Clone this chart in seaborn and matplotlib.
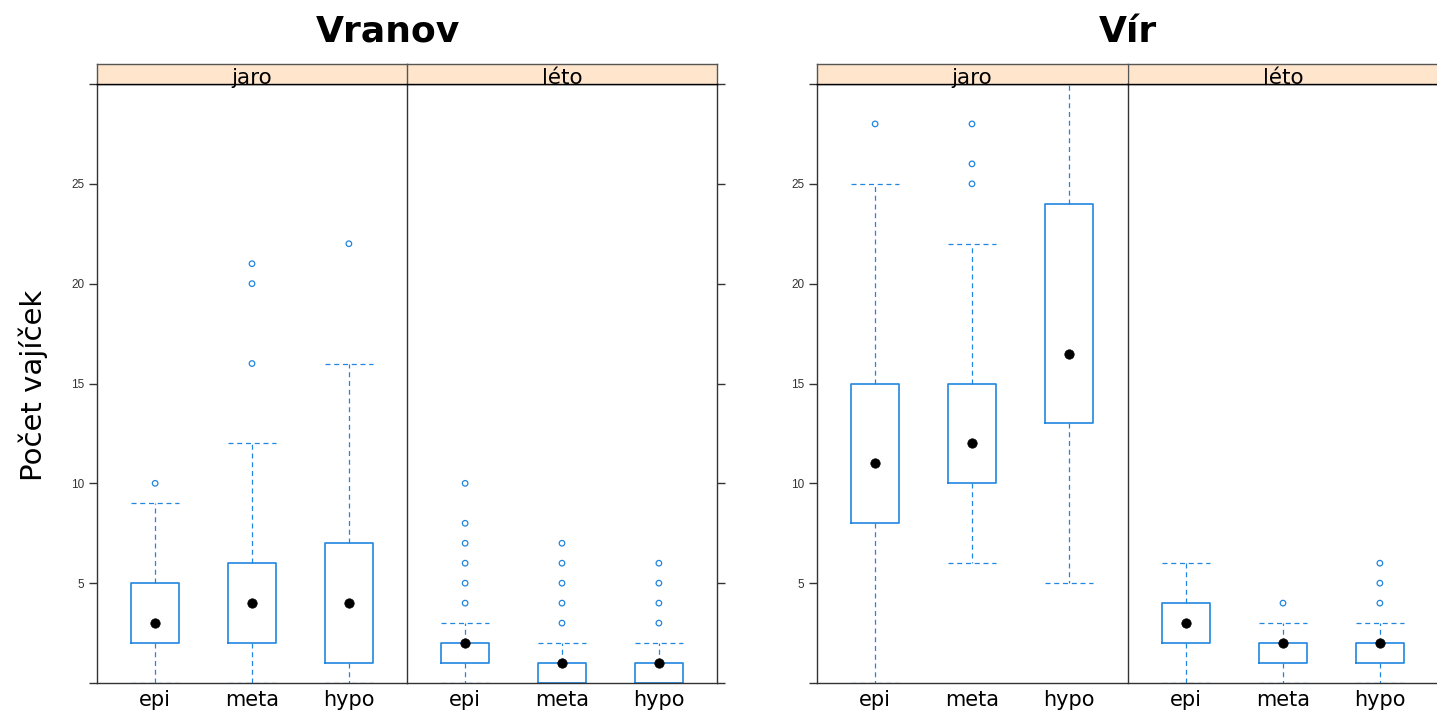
import matplotlib
matplotlib.use("Agg")
import matplotlib.pyplot as plt
import seaborn as sns

# Categories
groups = ["epi", "meta", "hypo"]
seasons = ["jaro", "léto"]
lakes = ["Vranov", "Vír"]

# Box-plot summaries: lower whisker, lower hinge, median, upper hinge, upper whisker, outliers
vranov_jaro_lo = [0, 0, 0]
vranov_jaro_q1 = [2, 2, 1]
vranov_jaro_med = [3, 4, 4]
vranov_jaro_q3 = [5, 6, 7]
vranov_jaro_hi = [9, 12, 16]
vranov_jaro_out = [[10], [16, 20, 21], [22]]

vranov_leto_lo = [0, 0, 0]
vranov_leto_q1 = [1, 0, 0]
vranov_leto_med = [2, 1, 1]
vranov_leto_q3 = [2, 1, 1]
vranov_leto_hi = [3, 2, 2]
vranov_leto_out = [[4, 5, 6, 7, 8, 10], [3, 4, 5, 6, 7], [3, 4, 5, 6]]

vir_jaro_lo = [0, 6, 5]
vir_jaro_q1 = [8, 10, 13]
vir_jaro_med = [11, 12, 16.5]
vir_jaro_q3 = [15, 15, 24]
vir_jaro_hi = [25, 22, 34]
vir_jaro_out = [[28], [25, 26, 28], []]

vir_leto_lo = [0, 0, 0]
vir_leto_q1 = [2, 1, 1]
vir_leto_med = [3, 2, 2]
vir_leto_q3 = [4, 2, 2]
vir_leto_hi = [6, 3, 3]
vir_leto_out = [[], [4], [4, 5, 6]]

y_ticks = [0, 5, 10, 15, 20, 25, 30]
y_tick_labels = ["", "5", "10", "15", "20", "25", ""]
y_label = "Počet vajíček"

panels = {
    ("Vranov", "jaro"): (vranov_jaro_lo, vranov_jaro_q1, vranov_jaro_med, vranov_jaro_q3, vranov_jaro_hi, vranov_jaro_out),
    ("Vranov", "léto"): (vranov_leto_lo, vranov_leto_q1, vranov_leto_med, vranov_leto_q3, vranov_leto_hi, vranov_leto_out),
    ("Vír", "jaro"): (vir_jaro_lo, vir_jaro_q1, vir_jaro_med, vir_jaro_q3, vir_jaro_hi, vir_jaro_out),
    ("Vír", "léto"): (vir_leto_lo, vir_leto_q1, vir_leto_med, vir_leto_q3, vir_leto_hi, vir_leto_out),
}

sns.set_theme(style="white")
plt.rcParams["font.family"] = ["DejaVu Sans"]

BLUE = "#2186e0"
FRAME = "#333333"
STRIP = "#ffe5cc"

W, H = 1437, 715
fig = plt.figure(figsize=(W / 100, H / 100), dpi=100)
fig.patch.set_facecolor("white")

panel_left = {("Vranov", "jaro"): 97, ("Vranov", "léto"): 407,
              ("Vír", "jaro"): 817, ("Vír", "léto"): 1128}
panel_w, top, bottom, strip_h = 310, 84, 683, 20
pos = [0, 1, 2]
dash = (0, (4, 3))

for (lake, season), (lo, q1, med, q3, hi, out) in panels.items():
    L = panel_left[(lake, season)]
    ax = fig.add_axes([L / W, 1 - bottom / H, panel_w / W, (bottom - top) / H])
    stats = [dict(whislo=lo[i], q1=q1[i], med=med[i], q3=q3[i], whishi=hi[i], fliers=[])
             for i in range(len(groups))]
    ax.bxp(stats, positions=pos, widths=0.5, capwidths=0.5, showfliers=False,
           boxprops=dict(color=BLUE, linewidth=1.2),
           whiskerprops=dict(color=BLUE, linewidth=0.9, linestyle=dash),
           capprops=dict(color=BLUE, linewidth=0.9, linestyle=dash),
           medianprops=dict(visible=False))

    # outliers as open circles
    ox, oy = [], []
    for i, vals in enumerate(out):
        ox += [pos[i]] * len(vals)
        oy += vals
    if ox:
        sns.scatterplot(x=ox, y=oy, ax=ax, marker="o", s=16, facecolors="none",
                        edgecolor=BLUE, linewidth=0.9, zorder=4, legend=False)
    # medians as filled black dots
    sns.scatterplot(x=pos, y=med, ax=ax, color="black", s=46, edgecolor="black",
                    linewidth=0.5, zorder=5, legend=False)

    ax.set_xlim(-0.6, 2.6)
    ax.set_ylim(0, 30)
    ax.set_xlabel("")
    ax.set_ylabel("")
    ax.set_xticks(pos)
    ax.set_xticklabels(groups, fontsize=15, color="black")
    ax.tick_params(axis="x", length=0, pad=5)
    ax.set_yticks(y_ticks)
    ax.set_yticklabels(y_tick_labels, fontsize=8.5, color="#333333",
                       fontfamily="Liberation Sans")
    if season == "jaro":
        ax.tick_params(axis="y", left=True, right=False, labelleft=True,
                       direction="out", length=6, width=1, color=FRAME, pad=3)
    else:
        ax.tick_params(axis="y", left=False, right=True, labelleft=False,
                       labelright=False, direction="out", length=6, width=1, color=FRAME)
    for sp in ax.spines.values():
        sp.set_color(FRAME)
        sp.set_linewidth(1)
    ax.spines["top"].set_color("black")
    if season == "jaro":
        ax.spines["right"].set_visible(False)
    ax.set_facecolor("white")

    # strip with the season label
    sax = fig.add_axes([L / W, 1 - top / H, panel_w / W, strip_h / H])
    sax.set_facecolor(STRIP)
    sax.set_xticks([])
    sax.set_yticks([])
    for sp in sax.spines.values():
        sp.set_color("#555555")
        sp.set_linewidth(1)
    sax.spines["bottom"].set_color("black")
    if season == "jaro":
        sax.spines["right"].set_visible(False)
    sax.text(0.5, 0.02, season, ha="center", va="baseline", fontsize=15.5,
             color="black", transform=sax.transAxes)

# titles and shared y label
fig.text(388 / W, 1 - 32 / H, "Vranov", ha="center", va="center",
         fontsize=26, fontweight="bold", color="black")
fig.text(1128 / W, 1 - 32 / H, "Vír", ha="center", va="center",
         fontsize=26, fontweight="bold", color="black")
fig.text(33 / W, 1 - 385 / H, y_label, ha="center", va="center",
         rotation=90, fontsize=21, color="black")

fig.savefig("out.png", dpi=100, facecolor="white")
